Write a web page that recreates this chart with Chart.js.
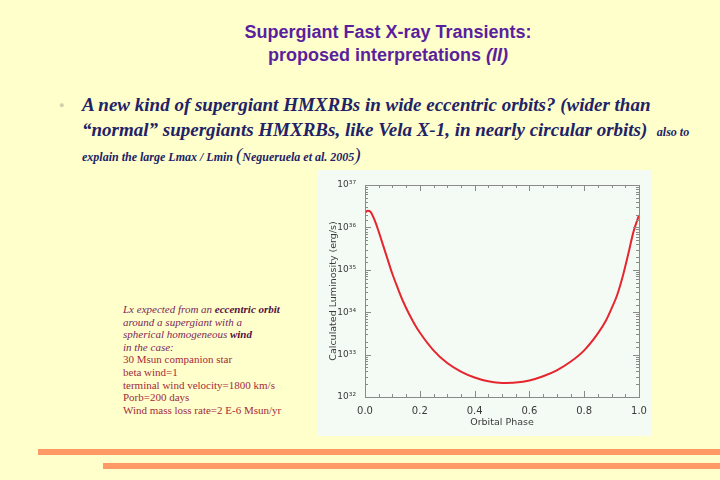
<!DOCTYPE html>
<html>
<head>
<meta charset="utf-8">
<script src="https://cdn.jsdelivr.net/npm/chart.js@4"></script>
<style>
  html, body { margin: 0; padding: 0; }
  body { width: 720px; height: 480px; background: #ffffcc; position: relative; overflow: hidden; }
  .title { position: absolute; left: 0; width: 776px; text-align: center; font-family: "Liberation Sans", Arial, sans-serif;
           font-weight: bold; font-size: 18px; color: #5b1f9e; white-space: nowrap; line-height: 20px; }
  .bul { position: absolute; left: 82px; font-family: "Liberation Serif", "Times New Roman", serif; font-weight: bold;
         font-style: italic; color: #222266; white-space: nowrap; font-size: 19px; line-height: 22px; }
  .small { font-size: 12px; }
  .dot { position: absolute; left: 59px; top: 100px; font-size: 9px; color: #cfcfa8; }
  .note { position: absolute; left: 123px; top: 303px; font-family: "Liberation Serif", "Times New Roman", serif;
          font-size: 11px; line-height: 12.6px; white-space: nowrap; }
  .note i { color: #7b1f5a; }
  .note b { color: #55103e; }
  .note .plain { color: #a52a3a; }
  .chartbox { position: absolute; left: 318px; top: 170px; width: 333px; height: 266px; background: #f4faf4; }
  .bar { position: absolute; background: #ff9966; height: 6px; }
</style>
</head>
<body>
<div class="title" style="top:22px;">Supergiant Fast X-ray Transients:</div>
<div class="title" style="top:45px;">proposed interpretations <i>(II)</i></div>

<div class="dot">&#9679;</div>
<div class="bul" style="top:94px;">A new kind of supergiant HMXRBs in wide eccentric orbits? (wider than</div>
<div class="bul" style="top:119px;">“normal” supergiants HMXRBs, like Vela X-1, in nearly circular orbits)&nbsp; <span class="small">also to</span></div>
<div class="bul" style="top:144px;"><span class="small">explain the large Lmax / Lmin </span><span style="font-weight:normal;">(</span><span class="small">Negueruela et al. 2005</span><span style="font-weight:normal;">)</span></div>

<div class="note">
  <i>Lx expected from an <b>eccentric orbit</b></i><br>
  <i>around a supergiant with a</i><br>
  <i>spherical homogeneous <b>wind</b></i><br>
  <i>in the case:</i><br>
  <span class="plain">30 Msun companion star</span><br>
  <span class="plain">beta wind=1</span><br>
  <span class="plain">terminal wind velocity=1800 km/s</span><br>
  <span class="plain">Porb=200 days</span><br>
  <span class="plain">Wind mass loss rate=2 E-6 Msun/yr</span>
</div>

<div class="chartbox"><canvas id="lumChart"></canvas></div>

<div class="bar" style="left:38px; right:0; top:449px;"></div>
<div class="bar" style="left:103px; right:0; top:463px;"></div>

<script>
// Orbital phase and log10 of the calculated luminosity (erg/s)
const phase = [0.00, 0.01, 0.02, 0.03, 0.04, 0.05, 0.06, 0.08, 0.10, 0.12, 0.14, 0.16, 0.18, 0.20,
               0.25, 0.30, 0.35, 0.40, 0.45, 0.50, 0.55, 0.60, 0.65, 0.70, 0.75, 0.80, 0.85, 0.88,
               0.90, 0.92, 0.94, 0.96, 0.98, 1.00];
const logLum = [36.35, 36.39, 36.37, 36.25, 36.09, 35.90, 35.70, 35.30, 34.90, 34.56, 34.24, 33.97, 33.73, 33.52,
                33.10, 32.80, 32.60, 32.46, 32.37, 32.33, 32.34, 32.39, 32.49, 32.63, 32.83, 33.10, 33.50, 33.81,
                34.09, 34.40, 34.83, 35.35, 35.90, 36.29];
const xTickLabels = ['0.0', '0.2', '0.4', '0.6', '0.8', '1.0'];
const yDecades = [32, 33, 34, 35, 36, 37];

const sup = { '0': '⁰', '1': '¹', '2': '²', '3': '³', '4': '⁴', '5': '⁵', '6': '⁶', '7': '⁷', '8': '⁸', '9': '⁹' };
const powLabel = n => '10' + String(n).split('').map(c => sup[c]).join('');

const axisColor = '#8a8a8a';
const labelColor = '#3a3a3a';

// IDL-like frame: box around the plot plus inward ticks on all four sides
const frame = {
  id: 'frame',
  afterDatasetsDraw(chart) {
    const { ctx, chartArea: a, scales } = chart;
    ctx.save();
    ctx.strokeStyle = axisColor;
    ctx.lineWidth = 1;
    ctx.strokeRect(a.left + 0.5, a.top + 0.5, a.right - a.left, a.bottom - a.top);
    ctx.beginPath();
    scales.x.ticks.forEach(t => {
      const px = Math.round(scales.x.getPixelForValue(t.value)) + 0.5;
      const major = Math.round(t.value * 100) % 20 === 0;
      const len = major ? 6 : 3;
      ctx.moveTo(px, a.bottom); ctx.lineTo(px, a.bottom - len);
      ctx.moveTo(px, a.top); ctx.lineTo(px, a.top + len);
    });
    scales.y.ticks.forEach(t => {
      const py = Math.round(scales.y.getPixelForValue(t.value)) + 0.5;
      const lg = Math.log10(t.value);
      const major = Math.abs(lg - Math.round(lg)) < 1e-6;
      const len = major ? 6 : 3;
      ctx.moveTo(a.left, py); ctx.lineTo(a.left + len, py);
      ctx.moveTo(a.right, py); ctx.lineTo(a.right - len, py);
    });
    ctx.stroke();
    ctx.restore();
  }
};

const ctx = document.getElementById('lumChart').getContext('2d');
const lumChart = new Chart(ctx, {
  type: 'line',
  data: {
    datasets: [{
      data: phase.map((p, i) => ({ x: p, y: Math.pow(10, logLum[i]) })),
      borderColor: '#e6262e',
      borderWidth: 2,
      pointRadius: 0,
      cubicInterpolationMode: 'monotone',
      fill: false
    }]
  },
  options: {
    responsive: true,
    maintainAspectRatio: false,
    animation: false,
    layout: { padding: { top: 15, right: 12, left: 10, bottom: 8 } },
    plugins: { legend: { display: false }, tooltip: { enabled: false } },
    scales: {
      x: {
        type: 'linear',
        min: 0,
        max: 1,
        grid: { display: false },
        border: { display: true, color: axisColor },
        ticks: {
          stepSize: 0.05,
          autoSkip: false,
          maxRotation: 0,
          padding: 0,
          color: labelColor,
          font: { family: 'DejaVu Sans', size: 10 },
          callback: v => {
            const k = Math.round(v * 100);
            return k % 20 === 0 ? xTickLabels[k / 20] : '';
          }
        },
        title: { display: true, text: 'Orbital Phase', color: labelColor, padding: 0,
                 font: { family: 'DejaVu Sans', size: 9.5 } },
        afterFit: s => { s.height = 31; }
      },
      y: {
        type: 'logarithmic',
        min: Math.pow(10, yDecades[0]),
        max: Math.pow(10, yDecades[yDecades.length - 1]),
        grid: { display: false },
        border: { display: true, color: axisColor },
        ticks: {
          autoSkip: false,
          padding: 1,
          color: labelColor,
          font: { family: 'DejaVu Sans', size: 9 },
          callback: v => {
            const lg = Math.round(Math.log10(v));
            return Math.abs(Math.log10(v) - lg) < 1e-6 && yDecades.includes(lg) ? powLabel(lg) : '';
          }
        },
        title: { display: true, text: 'Calculated Luminosity (erg/s)', color: labelColor, padding: 0,
                 font: { family: 'DejaVu Sans', size: 9.5 } },
        afterFit: s => { s.width = 37; }
      }
    }
  },
  plugins: [frame]
});
</script>
</body>
</html>
